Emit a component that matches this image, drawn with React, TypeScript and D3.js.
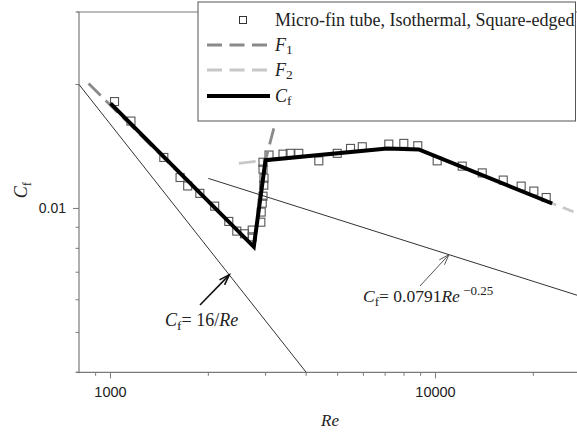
import React from "react";
import * as d3 from "d3";

const W = 577;
const H = 432;

// Experimental points: Micro-fin tube, Isothermal, Square-edged
const pointRe = [1029, 1156, 1459, 1637, 1728, 1883, 2092, 2312, 2447, 2584, 2729, 2729, 2901, 2909, 2930, 2946, 2963, 2967, 2946, 2946, 3074, 3395, 3573, 3797, 4375, 4984, 5477, 5952, 7184, 7989, 8821, 10120, 12085, 13925, 16160, 18350, 20070, 21910];
const pointCf = [0.01818, 0.0163, 0.0133, 0.01189, 0.01134, 0.01088, 0.01013, 0.0093, 0.00881, 0.00868, 0.00886, 0.00853, 0.00926, 0.0098, 0.0103, 0.01071, 0.01139, 0.01185, 0.01246, 0.01295, 0.01348, 0.01355, 0.01361, 0.01361, 0.01305, 0.01361, 0.01399, 0.01412, 0.01433, 0.01439, 0.0142, 0.01305, 0.01267, 0.0122, 0.01172, 0.01133, 0.01102, 0.01063];

// Cf correlation (thick black)
const cfLineRe = [1000, 2760, 2999, 7101, 8884, 22860];
const cfLineCf = [0.01799, 0.00807, 0.0131, 0.01399, 0.01391, 0.01028];

// F1 (dark dashed)
const f1Re = [856, 2760, 2999, 3180];
const f1Cf = [0.0201, 0.00807, 0.0131, 0.01565];

// F2 (light dashed)
const f2Re = [2482, 2999, 7101, 8884, 22860, 26590];
const f2Cf = [0.01287, 0.0131, 0.01399, 0.01391, 0.01028, 0.00982];

// Reference lines
const laminarRe = [800, 4000];
const laminarCf = [0.02, 0.004];
const turbRe = [2000, 30000];
const turbCf = [0.01183, 0.00601];

// Ticks
const xMajor = [1000, 10000];
const xMajorLabels = ["1000", "10000"];
const xMinor = [900, 2000, 3000, 4000, 5000, 6000, 7000, 8000, 9000, 20000];
const yMajor = [0.01];
const yMajorLabels = ["0.01"];
const yMinor = [0.004, 0.005, 0.006, 0.007, 0.008, 0.009, 0.02, 0.03];

const x = d3.scaleLog().domain([800, 30000]).range([79, 79 + 325 * Math.log10(30000 / 800)]);
const y = d3.scaleLog().domain([0.004, 0.03]).range([372.3, 12]);

const lineGen = d3
  .line<[number, number]>()
  .x((d) => x(d[0]))
  .y((d) => y(d[1]));

const zip = (a: number[], b: number[]) => a.map((v, i) => [v, b[i]] as [number, number]);

function Arrow({ x1, y1, x2, y2, color, width }: { x1: number; y1: number; x2: number; y2: number; color: string; width: number }) {
  const ang = Math.atan2(y1 - y2, x1 - x2);
  const L = 11;
  const a1 = ang + 0.33;
  const a2 = ang - 0.33;
  const h = `M${x2 + L * Math.cos(a1)},${y2 + L * Math.sin(a1)}L${x2},${y2}L${x2 + L * Math.cos(a2)},${y2 + L * Math.sin(a2)}`;
  return (
    <g stroke={color} strokeWidth={width} fill="none">
      <line x1={x1} y1={y1} x2={x2} y2={y2} />
      <path d={h} />
    </g>
  );
}

export default function App() {
  const serif = "'Liberation Serif', 'Times New Roman', serif";
  const sans = "'Liberation Sans', Arial, sans-serif";
  const axisColor = "#7a7a7a";
  const x0 = 79;
  const yB = 372.3;
  const yT = 12;

  const lamTipRe = 2320;
  const lamTip = [x(lamTipRe), y(16 / lamTipRe)];
  const turbTipRe = 11000;
  const turbTip = [x(turbTipRe), y(0.0791 * Math.pow(turbTipRe, -0.25))];

  const sq = 8;
  const legX = 198;
  const legRows = [20, 45, 70, 96];

  return (
    <svg width={W} height={H} style={{ position: "absolute", left: 0, top: 0, background: "#fff" }}>
      <rect x={0} y={0} width={W} height={H} fill="#fff" />
      {/* frame */}
      <line x1={x0 - 2} y1={yT} x2={W} y2={yT} stroke={axisColor} strokeWidth={1.2} />
      <line x1={x0} y1={yT} x2={x0} y2={yB + 1} stroke={axisColor} strokeWidth={1.2} />
      <line x1={x0 - 3} y1={yB} x2={W} y2={yB} stroke={axisColor} strokeWidth={1.2} />

      {/* x ticks */}
      {xMajor.map((v, i) => (
        <g key={"xM" + i}>
          <line x1={x(v)} x2={x(v)} y1={yB} y2={yB + 6} stroke={axisColor} strokeWidth={1} />
          <text x={x(v)} y={397} textAnchor="middle" fontFamily={sans} fontSize={14.5} fill="#222">
            {xMajorLabels[i]}
          </text>
        </g>
      ))}
      {xMinor.map((v, i) => (
        <line key={"xm" + i} x1={x(v)} x2={x(v)} y1={yB} y2={yB + 3.5} stroke={axisColor} strokeWidth={1} />
      ))}
      {/* y ticks */}
      {yMajor.map((v, i) => (
        <g key={"yM" + i}>
          <line x1={x0 - 6} x2={x0} y1={y(v)} y2={y(v)} stroke={axisColor} strokeWidth={1} />
          <text x={66} y={y(v) + 5} textAnchor="end" fontFamily={sans} fontSize={14} fill="#222">
            {yMajorLabels[i]}
          </text>
        </g>
      ))}
      {yMinor.map((v, i) => (
        <line key={"ym" + i} x1={x0 - 3.5} x2={x0} y1={y(v)} y2={y(v)} stroke={axisColor} strokeWidth={1} />
      ))}

      {/* axis titles */}
      <text x={330} y={426} textAnchor="middle" fontFamily={serif} fontSize={17} fontStyle="italic" fill="#222">
        Re
      </text>
      <text transform="translate(27,190) rotate(-90)" textAnchor="middle" fontFamily={serif} fontSize={18} fill="#222">
        <tspan fontStyle="italic">C</tspan>
        <tspan fontSize={13} dy={4}>f</tspan>
      </text>

      {/* reference lines */}
      <path d={lineGen(zip(laminarRe, laminarCf)) || ""} fill="none" stroke="#333" strokeWidth={1} />
      <path d={lineGen(zip(turbRe, turbCf)) || ""} fill="none" stroke="#333" strokeWidth={1} />

      {/* points */}
      {pointRe.map((r, i) => (
        <rect key={"p" + i} x={x(r) - sq / 2} y={y(pointCf[i]) - sq / 2} width={sq} height={sq} fill="none" stroke="#555" strokeWidth={1.1} />
      ))}

      {/* F2, F1, Cf */}
      <path d={lineGen(zip(f2Re, f2Cf)) || ""} fill="none" stroke="#c8c8c8" strokeWidth={2.8} strokeDasharray="17 7" />
      <path d={lineGen(zip(f1Re, f1Cf)) || ""} fill="none" stroke="#8a8a8a" strokeWidth={2.8} strokeDasharray="17 7" />
      <path d={lineGen(zip(cfLineRe, cfLineCf)) || ""} fill="none" stroke="#000" strokeWidth={4} strokeLinejoin="miter" />

      {/* annotations */}
      <Arrow x1={200} y1={305} x2={lamTip[0]} y2={lamTip[1]} color="#111" width={1.6} />
      <text x={165} y={326} fontFamily={serif} fontSize={18} fill="#222">
        <tspan fontStyle="italic">C</tspan>
        <tspan fontSize={13.5} dy={4}>f</tspan>
        <tspan dy={-4}>= 16/</tspan>
        <tspan fontStyle="italic">Re</tspan>
      </text>
      <Arrow x1={420} y1={286} x2={turbTip[0]} y2={turbTip[1]} color="#555" width={1} />
      <text x={363} y={302} fontFamily={serif} fontSize={17.5} fill="#222">
        <tspan fontStyle="italic">C</tspan>
        <tspan fontSize={13} dy={4}>f</tspan>
        <tspan dy={-4}>= 0.0791</tspan>
        <tspan fontStyle="italic">Re</tspan>
        <tspan fontSize={13} dy={-7}> −0.25</tspan>
      </text>

      {/* legend */}
      <rect x={legX} y={2} width={W - legX - 1.5} height={119} fill="#fff" stroke="#555" strokeWidth={1} />
      <rect x={243 - 3.5} y={legRows[0] - 3.5} width={7} height={7} fill="none" stroke="#333" strokeWidth={1} />
      <line x1={207} x2={267} y1={legRows[1]} y2={legRows[1]} stroke="#8a8a8a" strokeWidth={2.8} strokeDasharray="15 7.5" />
      <line x1={207} x2={267} y1={legRows[2]} y2={legRows[2]} stroke="#c8c8c8" strokeWidth={2.8} strokeDasharray="15 7.5" />
      <line x1={207} x2={270} y1={legRows[3]} y2={legRows[3]} stroke="#000" strokeWidth={4} />
      <text x={275} y={legRows[0] + 5.5} fontFamily={serif} fontSize={18} fill="#222">
        Micro-fin tube, Isothermal, Square-edged
      </text>
      <text x={275} y={legRows[1] + 5.5} fontFamily={serif} fontSize={18} fill="#222">
        <tspan fontStyle="italic">F</tspan>
        <tspan fontSize={13.5} dy={3}>1</tspan>
      </text>
      <text x={275} y={legRows[2] + 5.5} fontFamily={serif} fontSize={18} fill="#222">
        <tspan fontStyle="italic">F</tspan>
        <tspan fontSize={13.5} dy={3}>2</tspan>
      </text>
      <text x={275} y={legRows[3] + 5.5} fontFamily={serif} fontSize={18} fill="#222">
        <tspan fontStyle="italic">C</tspan>
        <tspan fontSize={13.5} dy={3}>f</tspan>
      </text>
    </svg>
  );
}
